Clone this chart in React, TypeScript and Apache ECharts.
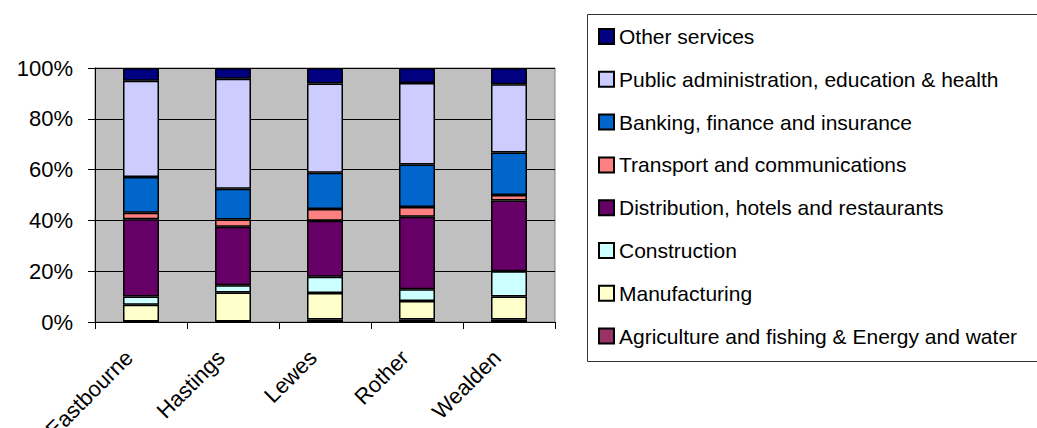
import React, { useEffect, useRef } from "react";
import * as echarts from "echarts";

const categories = ["Eastbourne", "Hastings", "Lewes", "Rother", "Wealden"];
const agriculture = [0.2, 0.2, 1.0, 1.0, 1.0];
const manufacturing = [6.6, 11.4, 10.4, 7.3, 9.0];
const construction = [3.2, 2.9, 6.4, 4.6, 10.0];
const distribution = [30.5, 23.0, 22.1, 28.5, 27.8];
const transport = [2.5, 2.9, 4.6, 3.9, 2.2];
const banking = [14.1, 12.1, 14.3, 16.7, 16.7];
const publicAdmin = [37.9, 43.3, 35.1, 32.1, 26.9];
const otherServices = [5.0, 4.2, 6.1, 5.9, 6.4];

const seriesDefs = [
  { name: "Agriculture and fishing & Energy and water", data: agriculture, color: "#993366" },
  { name: "Manufacturing", data: manufacturing, color: "#FFFFCC" },
  { name: "Construction", data: construction, color: "#CCFFFF" },
  { name: "Distribution, hotels and restaurants", data: distribution, color: "#660066" },
  { name: "Transport and communications", data: transport, color: "#FF8080" },
  { name: "Banking, finance and insurance", data: banking, color: "#0066CC" },
  { name: "Public administration, education & health", data: publicAdmin, color: "#CCCCFF" },
  { name: "Other services", data: otherServices, color: "#000080" },
];

const FONT = "'Liberation Sans', Arial, sans-serif";

export default function App() {
  const ref = useRef<HTMLDivElement>(null);
  useEffect(() => {
    if (!ref.current) return;
    const chart = echarts.init(ref.current, null, { renderer: "svg" });
    chart.setOption({
      animation: false,
      backgroundColor: "#ffffff",
      textStyle: { fontFamily: FONT },
      grid: {
        left: 95,
        right: 482,
        top: 68,
        bottom: 106,
        containLabel: false,
        outerBoundsMode: "none",
        show: true,
        backgroundColor: "#C0C0C0",
        borderColor: "#808080",
        borderWidth: 1,
      },
      graphic: [
        {
          type: "rect",
          shape: { x: 587.5, y: 14.5, width: 460, height: 347 },
          style: { fill: "#ffffff", stroke: "#333333", lineWidth: 1 },
          z: -1,
        },
      ],
      legend: {
        orient: "vertical",
        left: 598,
        top: 26,
        padding: 0,
        itemWidth: 15,
        itemHeight: 15,
        itemGap: 21.8,
        icon: "rect",
        textStyle: { fontFamily: FONT, fontSize: 21, color: "#000000" },
        data: seriesDefs.map((s) => s.name).reverse(),
      },
      xAxis: {
        type: "category",
        data: categories,
        axisLine: { lineStyle: { color: "#000000", width: 1 } },
        axisTick: { show: true, length: 7, inside: false, lineStyle: { color: "#000000" } },
        axisLabel: {
          rotate: 45,
          fontFamily: FONT,
          fontSize: 22,
          color: "#000000",
          margin: 20,
          padding: [0, 17, 0, 0],
        },
      },
      yAxis: {
        type: "value",
        min: 0,
        max: 100,
        interval: 20,
        axisLine: { show: true, lineStyle: { color: "#000000", width: 1 } },
        axisTick: { show: true, length: 7, lineStyle: { color: "#000000" } },
        axisLabel: {
          formatter: "{value}%",
          fontFamily: FONT,
          fontSize: 22,
          color: "#000000",
          margin: 22,
        },
        splitLine: { show: true, lineStyle: { color: "#000000", width: 1 } },
      },
      series: seriesDefs.map((s) => ({
        name: s.name,
        type: "bar",
        stack: "total",
        barWidth: 36,
        data: s.data,
        itemStyle: { color: s.color, borderColor: "#000000", borderWidth: 1.5 },
      })),
    });
    return () => chart.dispose();
  }, []);
  return (
    <div
      ref={ref}
      style={{ position: "fixed", left: 0, top: 0, width: 1037, height: 428 }}
    />
  );
}
